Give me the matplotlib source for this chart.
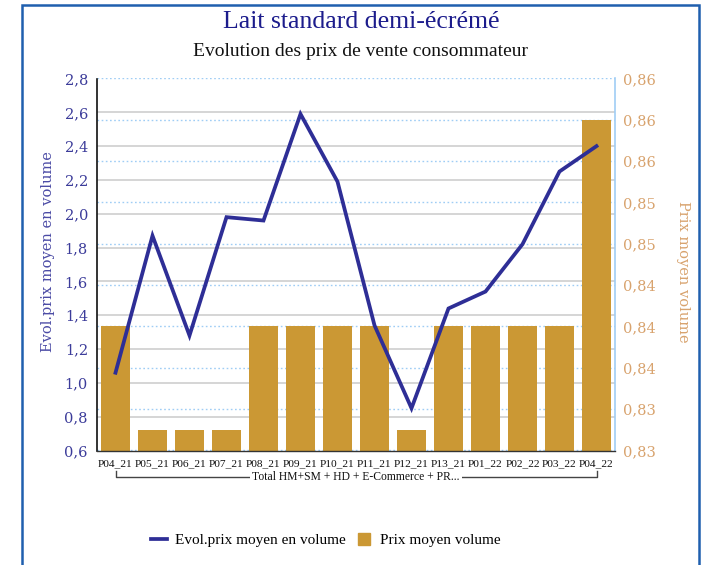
import matplotlib
matplotlib.use("Agg")
import matplotlib.pyplot as plt
import matplotlib.transforms as mtransforms
from matplotlib.patches import Rectangle
from matplotlib.ticker import FuncFormatter, FixedLocator
from matplotlib.lines import Line2D

categories = ["P04_21", "P05_21", "P06_21", "P07_21", "P08_21", "P09_21", "P10_21",
              "P11_21", "P12_21", "P13_21", "P01_22", "P02_22", "P03_22", "P04_22"]
evol_prix = [1.06, 1.87, 1.28, 1.98, 1.96, 2.59, 2.19, 1.34, 0.85, 1.44, 1.54, 1.82, 2.25, 2.40]
prix_moyen = [0.840, 0.830, 0.830, 0.830, 0.840, 0.840, 0.840, 0.840, 0.830, 0.840,
              0.840, 0.840, 0.840, 0.860]
left_ticks = [0.6, 0.8, 1.0, 1.2, 1.4, 1.6, 1.8, 2.0, 2.2, 2.4, 2.6, 2.8]
right_ticks = [0.828, 0.832, 0.836, 0.840, 0.844, 0.848, 0.852, 0.856, 0.860, 0.864]
title = "Lait standard demi-écrémé"
subtitle = "Evolution des prix de vente consommateur"
group_label = "Total HM+SM + HD + E-Commerce + PR..."
line_name = "Evol.prix moyen en volume"
bar_name = "Prix moyen volume"

LINE_C = "#2e2e96"
BAR_C = "#cb9834"
LEFT_TXT = "#3c3c9a"
RIGHT_TXT = "#d8a36e"
SERIF = ["Liberation Serif", "DejaVu Serif"]
WIDE = ["DejaVu Serif"]

fig = plt.figure(figsize=(7.02, 5.65), dpi=100)
fig.patch.set_facecolor("white")

# outer frame
fig.patches.append(Rectangle((21.5 / 702, -0.05), (699 - 21.5) / 702, 1.05 - 5 / 565,
                             transform=fig.transFigure, fill=False,
                             edgecolor="#1f5fae", linewidth=1.8))

ax = fig.add_axes([97 / 702, 114.5 / 565, 518 / 702, 372 / 565])
ax2 = ax.twinx()
ax.set_zorder(3)
ax2.set_zorder(2)
ax.patch.set_visible(False)

x = list(range(len(categories)))

# bars (right scale)
ax2.bar(x, prix_moyen, width=0.81, color=BAR_C, zorder=2)
ax2.set_ylim(right_ticks[0], right_ticks[-1])
ax2.yaxis.set_major_locator(FixedLocator(right_ticks))
ax2.yaxis.set_major_formatter(FuncFormatter(lambda v, p: f"{v:.2f}".replace(".", ",")))
ax2.yaxis.grid(True, linestyle=(0, (1.2, 1.8)), color="#9fcdf5", linewidth=1.0, zorder=0.5)
ax2.set_axisbelow(True)

# gray gridlines for left scale, drawn beneath bars
blend = mtransforms.blended_transform_factory(ax2.transAxes, ax.transData)
ax.set_ylim(left_ticks[0], left_ticks[-1])
for v in left_ticks[1:-1]:
    ax2.plot([0, 1], [v, v], transform=blend, color="#d5d5d5", linewidth=1.4, zorder=0.4)

# line (left scale)
ax.plot(x, evol_prix, color=LINE_C, linewidth=2.7, zorder=5, solid_joinstyle="miter")
ax.set_xlim(-0.5, len(categories) - 0.5)
ax.yaxis.set_major_locator(FixedLocator(left_ticks))
ax.yaxis.set_major_formatter(FuncFormatter(lambda v, p: f"{v:.1f}".replace(".", ",")))

ax.set_xticks(x)
ax.set_xticklabels(categories, fontsize=8.2, family=SERIF, color="#111111")
ax.tick_params(axis="x", length=0, pad=6)
ax.tick_params(axis="y", length=0, pad=6.5, labelsize=10.5, labelcolor=LEFT_TXT)
for t in ax.get_yticklabels():
    t.set_family(WIDE)
ax2.tick_params(axis="y", length=0, pad=5.5, labelsize=10.5, labelcolor=RIGHT_TXT)
for t in ax2.get_yticklabels():
    t.set_family(WIDE)

# spines
for a in (ax, ax2):
    a.spines["top"].set_visible(False)
ax.spines["right"].set_visible(False)
ax2.spines["left"].set_visible(False)
ax2.spines["bottom"].set_visible(False)
ax2.spines["right"].set_color("#9fcdf5")
ax2.spines["right"].set_linewidth(1.2)
ax.spines["left"].set_color("#111111")
ax.spines["left"].set_linewidth(1.2)
ax.spines["bottom"].set_color("#333333")
ax.spines["bottom"].set_linewidth(1.0)

# axis labels
ax.set_ylabel(line_name, color="#4b4ba5", fontsize=10.5, family=WIDE)
ax.yaxis.set_label_coords(-0.081, 0.534)
ax2.set_ylabel(bar_name, color=RIGHT_TXT, fontsize=10.5, family=WIDE, rotation=270)
ax2.yaxis.set_label_coords(1.145, 0.48)

# group bracket under the categories
gb = mtransforms.blended_transform_factory(ax.transData, ax.transAxes)
y_line = -(477 - 450.5) / 372
y_top = -(471 - 450.5) / 372
ax.plot([x[0], x[0], x[-1], x[-1]], [y_top, y_line, y_line, y_top], transform=gb,
        color="#444444", linewidth=1.0, clip_on=False)
ax.text((x[0] + x[-1]) / 2, y_line, group_label, transform=gb, ha="center", va="center",
        fontsize=8.4, family=SERIF, color="#111111",
        bbox=dict(facecolor="white", edgecolor="none", pad=1.5))

# titles
fig.text(0.514, 1 - 22 / 565, title, ha="center", va="center", fontsize=18.5,
         family=SERIF, color="#1c1c8c")
fig.text(0.514, 1 - 52 / 565, subtitle, ha="center", va="center", fontsize=14,
         family=SERIF, color="#111111")

# legend
handles = [Line2D([0], [0], color=LINE_C, linewidth=2.7),
           Line2D([0], [0], marker="s", linestyle="none", markersize=9,
                  markerfacecolor=BAR_C, markeredgecolor=BAR_C)]
fig.legend(handles, [line_name, bar_name], loc="center", bbox_to_anchor=(0.464, 1 - 540 / 565),
           ncol=2, frameon=False, prop={"family": SERIF, "size": 11},
           handlelength=1.1, columnspacing=0.65, handletextpad=0.5)

fig.savefig("out.png", dpi=100)
